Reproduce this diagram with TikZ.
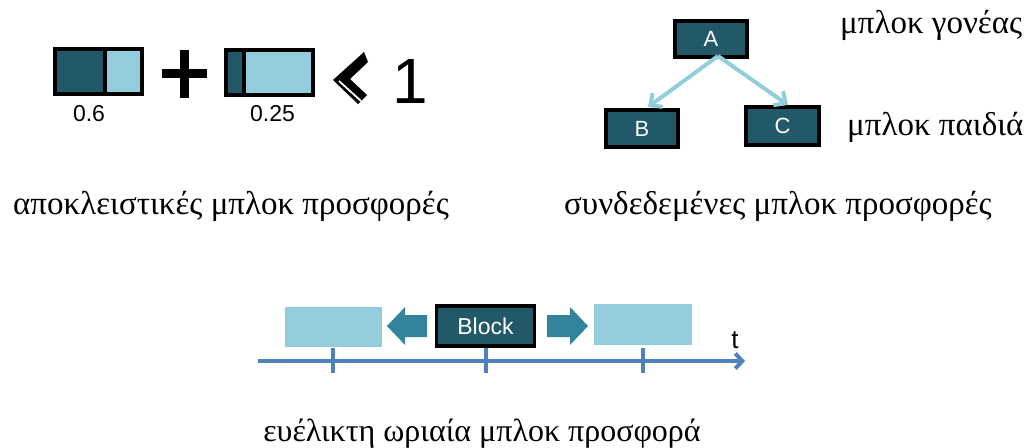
\documentclass[tikz,border=0pt]{standalone}
\usepackage{fontspec}
\setmainfont{Liberation Serif}
\newfontfamily\sansf{Liberation Sans}
\usetikzlibrary{arrows.meta}
\definecolor{darkteal}{HTML}{215968}
\definecolor{lightblue}{HTML}{93CDDD}
\definecolor{arrowteal}{HTML}{31849B}
\definecolor{axisblue}{HTML}{4F81BD}
\definecolor{treearrow}{HTML}{92CDDC}
\tikzset{
  darkbox/.style={draw=black,line width=3.5pt,fill=darkteal,inner sep=0pt,
    text=white,font=\sansf\fontsize{22}{22}\selectfont},
  lightbox/.style={fill=lightblue,inner sep=0pt},
  greek/.style={font=\fontsize{33}{33}\selectfont,inner sep=0pt,anchor=center},
  numlab/.style={font=\sansf\fontsize{23}{23}\selectfont,inner sep=0pt},
  treearr/.style={draw=treearrow,line width=4pt,-{Straight Barb[length=9pt,width=17pt]}},
  axisline/.style={axisblue,line width=4pt}
}
\begin{document}
\begin{tikzpicture}[x=1pt,y=-1pt]
\useasboundingbox (0,0) rectangle (1032,447);
% --- exclusive block offers ---
\fill[darkteal] (55,49) rectangle (105,94);
\fill[lightblue] (105,49) rectangle (142,94);
\draw[line width=3.5pt] (55,49) rectangle (142,94);
\draw[line width=3.5pt] (105,49) -- (105,94);
\node[numlab] (n06) at (89,113.5) {0.6};
\fill (162,69) rectangle (207,78);
\fill (180,50) rectangle (189,98);
\fill[darkteal] (226,50) rectangle (244,95);
\fill[lightblue] (244,50) rectangle (313,95);
\draw[line width=3.5pt] (226,50) rectangle (313,95);
\draw[line width=3.5pt] (244,50) -- (244,95);
\node[numlab] (n025) at (272.5,114) {0.25};
\fill (364,52) -- (333,80) -- (358,104) -- (367,95) -- (350,79) -- (368,62) -- cycle;
\draw[white,line width=1.8pt] (339,81) -- (361,101);
\node[font=\sansf\fontsize{64}{64}\selectfont,inner sep=0pt] (one) at (410,81) {1};
\node[greek] (t1) at (231,206) {αποκλειστικές μπλοκ προσφορές};
% --- linked block offers ---
\node[darkbox,minimum width=72pt,minimum height=36pt] (A) at (711,39) {A};
\node[darkbox,minimum width=72pt,minimum height=37pt] (B) at (642,128.5) {B};
\node[darkbox,minimum width=73pt,minimum height=38pt] (C) at (782.5,126) {C};
\coordinate (Abot) at (718,56);
\draw[treearr] (Abot) -- (648,107);
\draw[treearr] (Abot) -- (788,105);
\node[greek,anchor=west] (parent) at (840,25) {μπλοκ γονέας};
\node[greek,anchor=west] (child) at (847,127) {μπλοκ παιδιά};
\node[greek] (t2) at (778,206) {συνδεδεμένες μπλοκ προσφορές};
% --- flexible hourly block offer ---
\node[lightbox,minimum width=97pt,minimum height=40pt] (L) at (333.5,327) {};
\node[lightbox,minimum width=98pt,minimum height=41pt] (R) at (643,324.5) {};
\node[darkbox,minimum width=98pt,minimum height=40pt,font=\sansf\fontsize{23}{23}\selectfont] (blk) at (485.5,326) {Block};
\fill[arrowteal] (387,326) -- (405,307) -- (405,315) -- (427,315) -- (427,337) -- (405,337) -- (405,345) -- cycle;
\fill[arrowteal] (588,326) -- (570,307) -- (570,315) -- (547,315) -- (547,337) -- (570,337) -- (570,345) -- cycle;
\coordinate (ax0) at (258,361);
\coordinate (ax1) at (745,361);
\draw[axisline,-{Straight Barb[length=7pt,width=15pt]}] (ax0) -- (ax1);
\foreach \x in {333,486,643} \draw[axisline] (\x,348) -- (\x,373);
\node[font=\sansf\fontsize{26}{26}\selectfont,inner sep=0pt] (t) at (735,340) {t};
\node[greek,font=\fontsize{32}{32}\selectfont] (t3) at (482,434) {ευέλικτη ωριαία μπλοκ προσφορά};
\end{tikzpicture}
\end{document}
